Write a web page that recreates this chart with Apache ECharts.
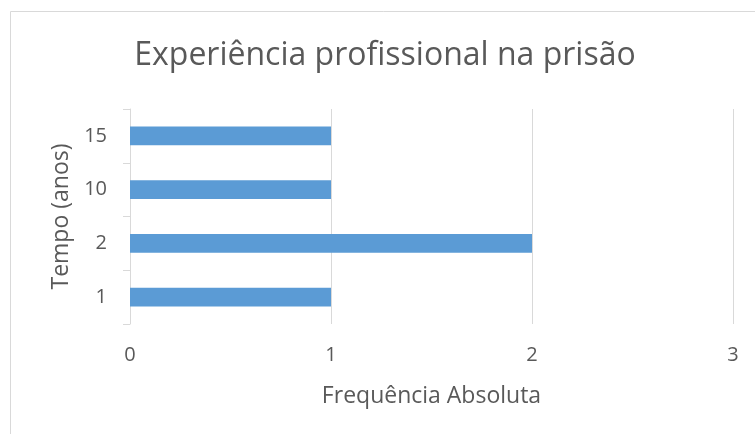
<!DOCTYPE html>
<html>
<head>
<meta charset="utf-8">
<script src="https://cdn.jsdelivr.net/npm/echarts@6/dist/echarts.min.js"></script>
<style>
    html, body { margin: 0; padding: 0; background: #fff; }
    #chart { width: 755px; height: 434px; }
</style>
</head>
<body>
<div id="chart"></div>
<script>
// dados
const categories = ['1', '2', '10', '15'];
const frequencia = [1, 2, 1, 1];
const xTicks = [0, 1, 2, 3];

const textColor = '#595959';
const lineColor = '#D9D9D9';
const font = 'Open Sans';

const myChart = echarts.init(document.getElementById('chart'));
const option = {
    animation: false,
    title: {
        text: 'Experiência profissional na prisão',
        left: 380,
        top: 35,
        textAlign: 'center',
        textStyle: {
            fontFamily: font,
            fontSize: 32,
            fontWeight: 'normal',
            color: textColor
        }
    },
    graphic: [{
        type: 'rect',
        shape: { x: 10.5, y: 11.5, width: 760, height: 440 },
        style: { fill: 'none', stroke: lineColor, lineWidth: 1 },
        silent: true
    }],
    grid: {
        left: 130,
        right: 22,
        top: 109,
        bottom: 110
    },
    xAxis: {
        type: 'value',
        min: xTicks[0],
        max: xTicks[xTicks.length - 1],
        interval: 1,
        name: 'Frequência Absoluta',
        nameLocation: 'middle',
        nameGap: 61,
        nameTextStyle: { fontFamily: font, fontSize: 23, color: textColor },
        axisLine: { show: false },
        axisTick: { show: false },
        axisLabel: { margin: 21, fontFamily: font, fontSize: 20, color: textColor },
        splitLine: { show: true, lineStyle: { color: lineColor, width: 1 } }
    },
    yAxis: {
        type: 'category',
        data: categories,
        name: 'Tempo (anos)',
        nameLocation: 'middle',
        nameGap: 56,
        nameTextStyle: { fontFamily: font, fontSize: 23, color: textColor },
        axisLine: { show: true, lineStyle: { color: lineColor, width: 1 } },
        axisTick: { show: true, length: 7, lineStyle: { color: lineColor } },
        axisLabel: { margin: 23, fontFamily: font, fontSize: 20, color: textColor },
        splitLine: { show: false }
    },
    series: [{
        type: 'bar',
        data: frequencia,
        barCategoryGap: '65%',
        itemStyle: { color: '#5B9BD5' }
    }]
};
myChart.setOption(option);
</script>
</body>
</html>
